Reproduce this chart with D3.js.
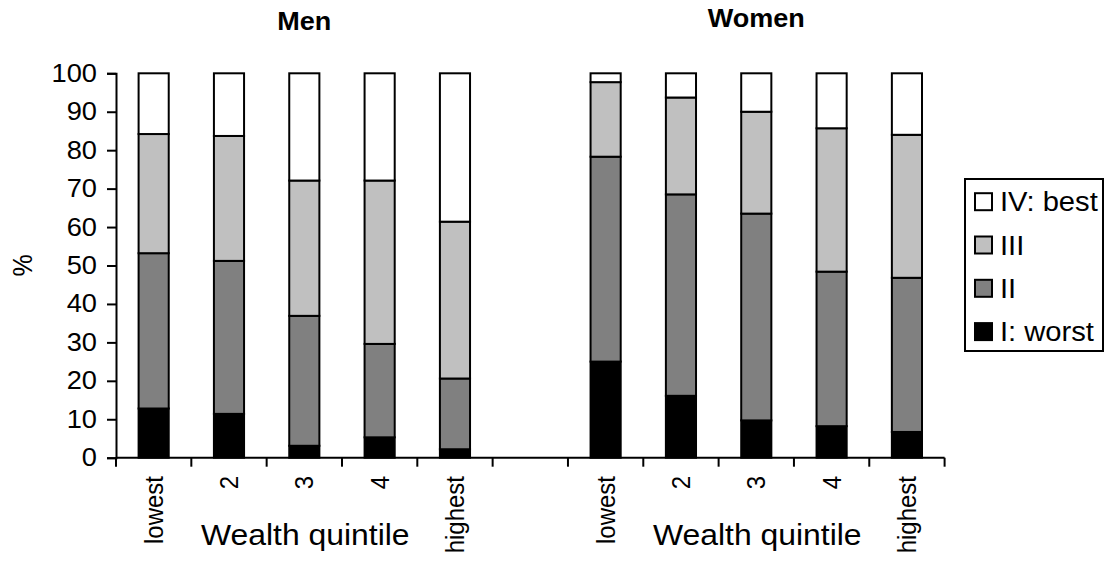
<!DOCTYPE html>
<html>
<head>
<meta charset="utf-8">
<script src="https://cdn.jsdelivr.net/npm/d3@7"></script>
<style>
  body { margin: 0; background: #fff; }
  svg { font-family: "Liberation Sans", Arial, sans-serif; }
</style>
</head>
<body>
<div id="chart"></div>
<script>
// Data (percent of each quintile)
const groups = ["Men", "Women"];
const quintiles = ["lowest", "2", "3", "4", "highest"];
const levels = ["I: worst", "II", "III", "IV: best"];

const menI   = [12.8, 11.4, 3.1, 5.3, 2.2];
const menII  = [40.4, 39.8, 33.8, 24.3, 18.4];
const menIII = [31.0, 32.5, 35.2, 42.5, 40.8];
const menIV  = [15.8, 16.3, 27.9, 27.9, 38.6];

const womenI   = [25.0, 16.1, 9.7, 8.2, 6.7];
const womenII  = [53.3, 52.4, 53.8, 40.2, 40.1];
const womenIII = [19.4, 25.2, 26.5, 37.3, 37.2];
const womenIV  = [2.3, 6.3, 10.0, 14.3, 16.0];

const yTicks = [0, 10, 20, 30, 40, 50, 60, 70, 80, 90, 100];

const colors = { "I: worst": "#000000", "II": "#808080", "III": "#c0c0c0", "IV: best": "#ffffff" };

// Build rows for d3.stack; an empty slot sits between the two groups
const rows = [];
const seriesByGroup = {
    Men: [menI, menII, menIII, menIV],
    Women: [womenI, womenII, womenIII, womenIV]
};
groups.forEach((g, gi) => {
    if (gi > 0) rows.push({ key: "gap", empty: true });
    quintiles.forEach((q, qi) => {
        const row = { key: g + "-" + q, label: q, group: g };
        levels.forEach((lv, li) => { row[lv] = seriesByGroup[g][li][qi]; });
        rows.push(row);
    });
});

const width = 1112, height = 563;
const plotLeft = 116, plotRight = 944.6, plotTop = 73.3, plotBottom = 457.7;
// the original text is slightly wider than it is tall
const stretch = 1.09;

const svg = d3.select("#chart")
    .append("svg")
    .attr("width", width)
    .attr("height", height);

const x = d3.scaleBand()
    .domain(rows.map(d => d.key))
    .range([plotLeft, plotRight])
    .paddingInner(0.6)
    .paddingOuter(0.3);

const y = d3.scaleLinear()
    .domain([0, 100])
    .range([plotBottom, plotTop]);

const stacked = d3.stack().keys(levels)(rows.filter(d => !d.empty));

// Bars
svg.append("g")
    .selectAll("g")
    .data(stacked)
    .join("g")
    .attr("fill", d => colors[d.key])
    .selectAll("rect")
    .data(d => d)
    .join("rect")
    .attr("x", d => x(d.data.key))
    .attr("y", d => y(d[1]))
    .attr("width", x.bandwidth())
    .attr("height", d => y(d[0]) - y(d[1]))
    .attr("stroke", "#000")
    .attr("stroke-width", 2);

// Y axis
const yAxis = svg.append("g")
    .attr("transform", `translate(${plotLeft},0)`)
    .call(d3.axisLeft(y).tickValues(yTicks).tickSize(9).tickPadding(10));
yAxis.select(".domain").attr("stroke-width", 2);
yAxis.selectAll(".tick line").attr("stroke-width", 2);
yAxis.selectAll(".tick text")
    .attr("font-size", 25)
    .attr("font-family", "Liberation Sans, Arial, sans-serif")
    .attr("fill", "#000")
    .attr("x", -19 / stretch)
    .attr("transform", `scale(${stretch},1)`);

// X axis: line plus ticks at category boundaries
const step = x.step();
const bounds = rows.map(d => x(d.key) - step * x.paddingInner() / 2).concat([plotRight]);
svg.append("line")
    .attr("x1", plotLeft).attr("x2", plotRight)
    .attr("y1", plotBottom).attr("y2", plotBottom)
    .attr("stroke", "#000").attr("stroke-width", 2);
svg.append("g")
    .selectAll("line")
    .data(bounds)
    .join("line")
    .attr("x1", d => d).attr("x2", d => d)
    .attr("y1", plotBottom).attr("y2", plotBottom + 9)
    .attr("stroke", "#000").attr("stroke-width", 2);

// Category labels, rotated
svg.append("g")
    .selectAll("text")
    .data(rows.filter(d => !d.empty))
    .join("text")
    .attr("transform", d => `translate(${x(d.key) + x.bandwidth() / 2 + 9},476) scale(${stretch},1) rotate(-90)`)
    .attr("text-anchor", "end")
    .attr("font-size", 24)
    .text(d => d.label);

// Group titles and axis titles
groups.forEach((g, gi) => {
    const keys = quintiles.map(q => g + "-" + q);
    const cx = (x(keys[0]) + x(keys[4]) + x.bandwidth()) / 2;
    svg.append("text")
        .attr("transform", `translate(${cx},${gi === 0 ? 30 : 27}) scale(1.04,1)`)
        .attr("text-anchor", "middle")
        .attr("font-size", 26)
        .attr("font-weight", "bold")
        .text(g);
    svg.append("text")
        .attr("transform", `translate(${cx + 1},545) scale(1.1,1)`)
        .attr("text-anchor", "middle")
        .attr("font-size", 29)
        .text("Wealth quintile");
});

svg.append("text")
    .attr("transform", `translate(32,${(plotTop + plotBottom) / 2}) scale(${stretch},1) rotate(-90)`)
    .attr("text-anchor", "middle")
    .attr("font-size", 25)
    .text("%");

// Legend
const legend = svg.append("g").attr("transform", "translate(965,179)");
legend.append("rect")
    .attr("width", 138).attr("height", 172)
    .attr("fill", "#fff").attr("stroke", "#000").attr("stroke-width", 2);
const legendItems = legend.selectAll("g")
    .data(levels.slice().reverse())
    .join("g")
    .attr("transform", (d, i) => `translate(0,${22.7 + i * 43.3})`);
legendItems.append("rect")
    .attr("x", 10).attr("y", -8.5)
    .attr("width", 17).attr("height", 17)
    .attr("fill", d => colors[d])
    .attr("stroke", "#000").attr("stroke-width", 2);
legendItems.append("text")
    .attr("transform", `translate(35,9.5) scale(1.08,1)`)
    .attr("font-size", 27)
    .text(d => d);
</script>
</body>
</html>
